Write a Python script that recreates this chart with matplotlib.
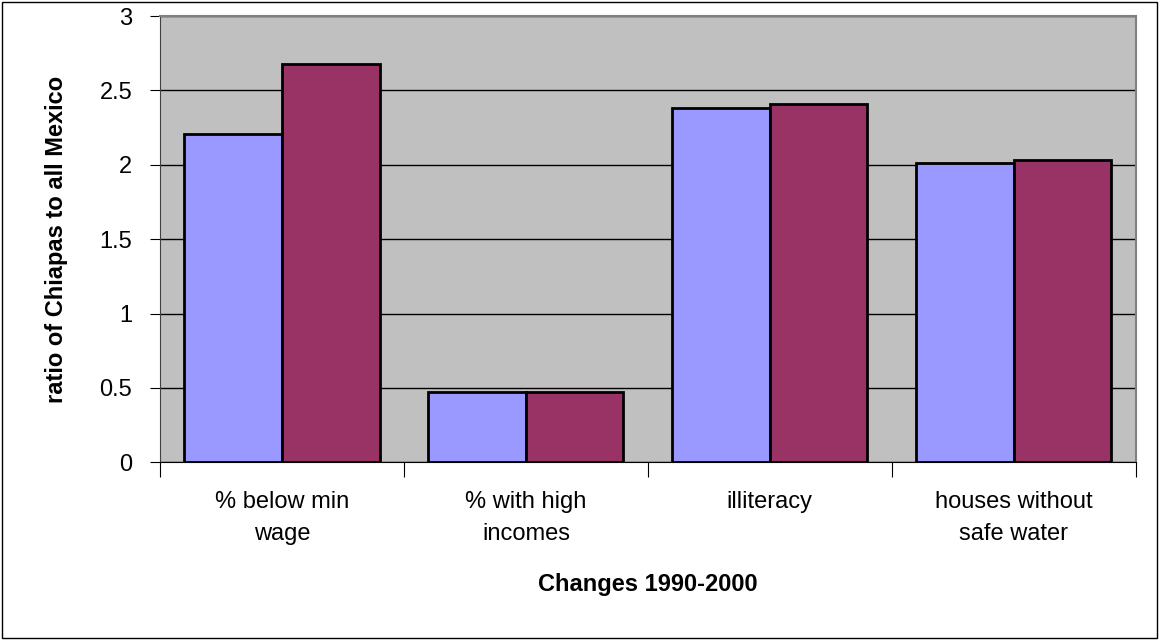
import matplotlib.pyplot as plt
import numpy as np
from matplotlib.patches import Rectangle

plt.rcParams['font.family'] = ['Liberation Sans', 'DejaVu Sans']

categories = ['% below min\nwage', '% with high\nincomes', 'illiteracy', 'houses without\nsafe water']
series_1990 = [2.21, 0.47, 2.38, 2.01]
series_2000 = [2.68, 0.47, 2.41, 2.03]
y_ticks = [0, 0.5, 1, 1.5, 2, 2.5, 3]
y_labels = ['0', '0.5', '1', '1.5', '2', '2.5', '3']

fig = plt.figure(figsize=(11.6, 6.42), dpi=100)
ax = fig.add_axes([0.138, 0.280, 0.841, 0.695])
ax.set_facecolor('#C0C0C0')

x = np.arange(len(categories))
w = 0.4
ax.bar(x - w / 2, series_1990, w, color='#9999FF', edgecolor='black', linewidth=2, zorder=3)
ax.bar(x + w / 2, series_2000, w, color='#993366', edgecolor='black', linewidth=2, zorder=3)

ax.set_xlim(-0.5, len(categories) - 0.5)
ax.set_ylim(0, 3)
ax.set_yticks(y_ticks)
ax.set_yticklabels(y_labels, fontsize=17)
ax.yaxis.grid(True, color='black', linewidth=1)
ax.set_axisbelow(True)

# major ticks between categories, labels on minor ticks
ax.set_xticks(np.arange(len(categories) + 1) - 0.5)
ax.set_xticklabels([])
ax.set_xticks(x, minor=True)
ax.set_xticklabels(categories, minor=True, fontsize=17, linespacing=1.55)
ax.tick_params(axis='x', which='minor', length=0, pad=21)
ax.tick_params(axis='x', which='major', length=11, color='black')
ax.tick_params(axis='y', length=7, pad=13)

for s in ['top', 'right']:
    ax.spines[s].set_color('#808080')
    ax.spines[s].set_linewidth(1.5)
ax.spines['left'].set_color('#404040')
ax.spines['bottom'].set_color('black')

ax.set_ylabel('ratio of Chiapas to all Mexico', fontsize=17, fontweight='bold', labelpad=23)
ax.set_xlabel('Changes 1990-2000', fontsize=17, fontweight='bold', labelpad=20)

fig.patches.append(Rectangle((0.002, 0.006), 0.995, 0.991, transform=fig.transFigure,
                             fill=False, edgecolor='black', linewidth=1))

fig.savefig('out.png', dpi=100)
